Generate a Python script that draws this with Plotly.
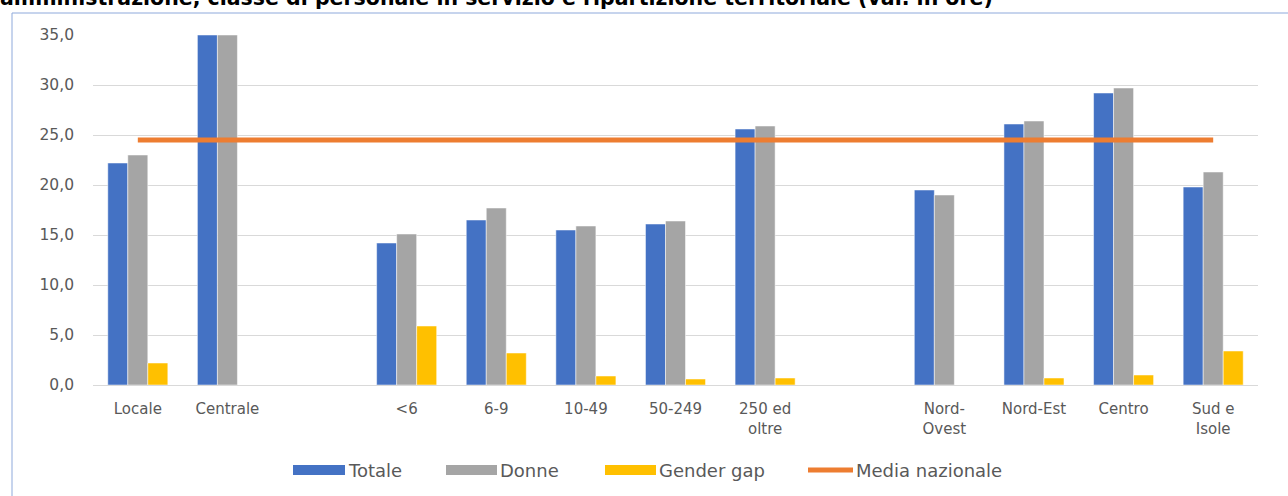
import plotly.graph_objects as go

categories = ["Locale", "Centrale", " ", "<6", "6-9", "10-49", "50-249", "250 ed<br>oltre",
              "  ", "Nord-<br>Ovest", "Nord-Est", "Centro", "Sud e<br>Isole"]
totale = [22.2, 35.0, None, 14.2, 16.5, 15.5, 16.1, 25.6, None, 19.5, 26.1, 29.2, 19.8]
donne = [23.0, 35.0, None, 15.1, 17.7, 15.9, 16.4, 25.9, None, 19.0, 26.4, 29.7, 21.3]
gender_gap = [2.2, None, None, 5.9, 3.2, 0.9, 0.6, 0.7, None, None, 0.7, 1.0, 3.4]
media_nazionale = [24.5] * len(categories)
y_ticks = [0, 5, 10, 15, 20, 25, 30, 35]

series_names = ["Totale", "Donne", "Gender gap", "Media nazionale"]
series_colors = ["#4472C4", "#A5A5A5", "#FFC000", "#ED7D31"]

title_text = ("amministrazione, classe di personale in servizio e ripartizione "
              "territoriale (val. in ore)")

FONT = "'DejaVu Sans', 'Open Sans', sans-serif"

# layout geometry (pixels)
W, H = 1288, 496
ML, MR, MT, MB = 93, 30, 35, 111
PW, PH = W - ML - MR, H - MT - MB


def px_x(px):
    return (px - ML) / PW


def px_y(py):
    return (H - MB - py) / PH


fig = go.Figure()
for name, vals, col in zip(series_names[:3], [totale, donne, gender_gap], series_colors[:3]):
    fig.add_trace(go.Bar(name=name, x=categories, y=vals, marker_color=col,
                         marker_line=dict(color="#ffffff", width=0.5)))
fig.add_trace(go.Scatter(name=series_names[3], x=categories, y=media_nazionale,
                         mode="lines", line=dict(color=series_colors[3], width=5),
                         hoverinfo="skip"))

# custom legend (wide swatches as in the reference)
legend_swatch_x = [293, 446, 605, 808]
legend_swatch_w = [52, 51, 51, 45]
legend_y = 470
shapes = []
annotations = []
for i, (name, col) in enumerate(zip(series_names, series_colors)):
    x0 = legend_swatch_x[i]
    x1 = x0 + legend_swatch_w[i]
    if i < 3:
        shapes.append(dict(type="rect", xref="paper", yref="paper",
                           x0=px_x(x0), x1=px_x(x1),
                           y0=px_y(legend_y + 5), y1=px_y(legend_y - 5),
                           fillcolor=col, line=dict(width=0)))
    else:
        shapes.append(dict(type="line", xref="paper", yref="paper",
                           x0=px_x(x0), x1=px_x(x1),
                           y0=px_y(legend_y), y1=px_y(legend_y),
                           line=dict(color=col, width=5)))
    annotations.append(dict(text=name, xref="paper", yref="paper",
                            x=px_x(x1 + 1), xanchor="left",
                            y=px_y(legend_y), yanchor="middle", showarrow=False,
                            font=dict(size=18, color="#595959", family=FONT)))

# frame lines
shapes.append(dict(type="line", xref="paper", yref="paper", x0=px_x(12), x1=px_x(12),
                   y0=px_y(13), y1=px_y(H + 20), line=dict(color="#8EA9DB", width=1)))
shapes.append(dict(type="line", xref="paper", yref="paper", x0=px_x(12), x1=px_x(W + 20),
                   y0=px_y(13), y1=px_y(13), line=dict(color="#8EA9DB", width=1)))

annotations.append(dict(text="<b>" + title_text + "</b>", xref="paper", yref="paper",
                        x=px_x(-2), xanchor="left", y=px_y(12), yanchor="bottom",
                        showarrow=False,
                        font=dict(size=20.5, color="#000000", family=FONT)))

fig.update_layout(
    width=W, height=H,
    margin=dict(l=ML, r=MR, t=MT, b=MB, autoexpand=False),
    paper_bgcolor="white", plot_bgcolor="white",
    barmode="group", bargap=0.33, bargroupgap=0,
    separators=",.",
    font=dict(family=FONT, color="#595959", size=15),
    showlegend=False,
    xaxis=dict(type="category", showgrid=False, showline=False, ticks="",
               automargin=False, ticklabelstandoff=13,
               tickfont=dict(size=15, color="#595959"), fixedrange=True),
    yaxis=dict(range=[0, 35], tickvals=y_ticks, tickformat=".1f",
               automargin=False,
               showgrid=True, gridcolor="#D9D9D9", gridwidth=1,
               zeroline=True, zerolinecolor="#D9D9D9", zerolinewidth=1,
               showline=False, ticks="", ticklabelstandoff=18,
               tickfont=dict(size=15.5, color="#595959")),
    annotations=annotations,
    shapes=shapes,
)

fig.write_html("out.html", config={"displayModeBar": False},
               post_script="document.body.style.margin='0';document.body.style.padding='0';")
